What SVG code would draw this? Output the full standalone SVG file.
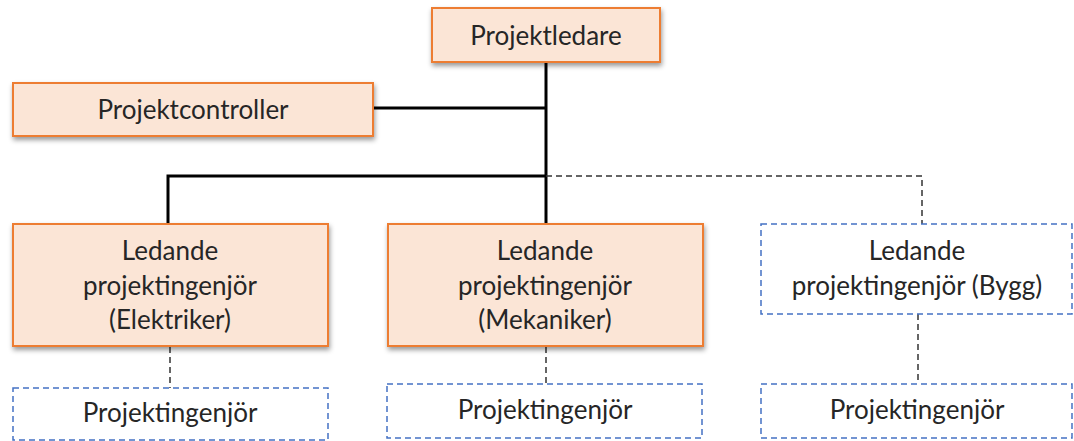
<svg xmlns="http://www.w3.org/2000/svg" width="1074" height="441" viewBox="0 0 1074 441">
<style>
.solid{fill:#FBE5D6;stroke:#ED7D31;stroke-width:2;filter:url(#sh)}
.dash{fill:#FFFFFF;stroke:#4472C4;stroke-width:1.5;stroke-dasharray:6 4}
.t{font-family:Lato,"Liberation Sans",sans-serif;font-size:26px;fill:#262626;text-anchor:middle}
.c{fill:none;stroke:#000;stroke-width:3}
.cd{fill:none;stroke:#333;stroke-width:1.5;stroke-dasharray:6 4}
</style>
<defs>
<filter id="sh" x="-10%" y="-20%" width="120%" height="150%">
<feDropShadow dx="1" dy="3" stdDeviation="2.5" flood-color="#000" flood-opacity="0.4"/>
</filter>
</defs>
<g id="connectors">
<path class="c" d="M546 62 V224"/>
<path class="c" d="M373 108 H546"/>
<path class="c" d="M168 224 V176 H546"/>
<path class="cd" d="M546 176 H922 V224"/>
<path class="cd" d="M170 347 V388"/>
<path class="cd" d="M546 347 V384"/>
<path class="cd" d="M918 314 V384"/>
</g>
<g id="projektledare">
<rect class="solid" x="432" y="8" width="228" height="54"/>
<text class="t" x="546" y="45">Projektledare</text>
</g>
<g id="projektcontroller">
<rect class="solid" x="13" y="83" width="360" height="53"/>
<text class="t" x="193" y="119">Projektcontroller</text>
</g>
<g id="elektriker">
<rect class="solid" x="13" y="224" width="315" height="122"/>
<text class="t" x="170" y="260">Ledande</text>
<text class="t" x="170" y="295">projektingenjör</text>
<text class="t" x="170" y="329">(Elektriker)</text>
</g>
<g id="mekaniker">
<rect class="solid" x="388" y="224" width="315" height="122"/>
<text class="t" x="545" y="260">Ledande</text>
<text class="t" x="545" y="295">projektingenjör</text>
<text class="t" x="545" y="329">(Mekaniker)</text>
</g>
<g id="bygg">
<rect class="dash" x="761" y="224" width="311" height="90"/>
<text class="t" x="917" y="260">Ledande</text>
<text class="t" x="917" y="295">projektingenjör (Bygg)</text>
</g>
<g id="ing1">
<rect class="dash" x="13" y="388" width="315" height="52"/>
<text class="t" x="170" y="422">Projektingenjör</text>
</g>
<g id="ing2">
<rect class="dash" x="387" y="384" width="315" height="54"/>
<text class="t" x="545" y="419">Projektingenjör</text>
</g>
<g id="ing3">
<rect class="dash" x="761" y="384" width="311" height="54"/>
<text class="t" x="917" y="419">Projektingenjör</text>
</g>
</svg>
